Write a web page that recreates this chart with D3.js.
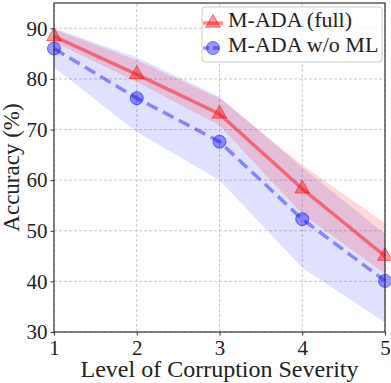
<!DOCTYPE html>
<html>
<head>
<meta charset="utf-8">
<script src="https://cdn.jsdelivr.net/npm/d3@7"></script>
<style>
  body { margin: 0; background: #fff; }
  svg text { font-family: "Liberation Serif", "DejaVu Serif", serif; fill: #222; }
</style>
</head>
<body>
<div id="chart"></div>
<script>
// data
const levels = [1, 2, 3, 4, 5];
const fullMean = [88.4, 80.9, 73.1, 58.3, 45.0];
const fullUpper = [89.8, 83.7, 76.2, 63.0, 51.5];
const fullLower = [87.3, 79.4, 70.8, 53.3, 41.5];
const woMean = [86.0, 76.2, 67.6, 52.3, 40.1];
const woUpper = [90.0, 84.3, 76.5, 62.5, 49.4];
const woLower = [82.3, 69.5, 60.0, 42.7, 31.9];
const yTicks = [30, 40, 50, 60, 70, 80, 90];
const seriesNames = ["M-ADA (full)", "M-ADA w/o ML"];

const WIDTH = 391, HEIGHT = 383;
const MARGINS = {left: 54, right: 6, top: 3, bottom: 51};
const SERIF = "'Liberation Serif', 'DejaVu Serif', serif";

const svg = d3.select("#chart")
  .append("svg")
    .attr("width", WIDTH)
    .attr("height", HEIGHT);

const x = d3.scaleLinear().domain([1, 5]).range([MARGINS.left, WIDTH - MARGINS.right]);
const y = d3.scaleLinear().domain([30, 95]).range([HEIGHT - MARGINS.bottom, MARGINS.top]);

// grid
svg.append("g")
  .selectAll("line")
  .data(levels)
  .enter().append("line")
    .attr("x1", d => x(d)).attr("x2", d => x(d))
    .attr("y1", y(30)).attr("y2", y(95))
    .attr("stroke", "#bbb").attr("stroke-width", 0.8).attr("stroke-dasharray", "3,2");
svg.append("g")
  .selectAll("line")
  .data(yTicks)
  .enter().append("line")
    .attr("x1", x(1)).attr("x2", x(5))
    .attr("y1", d => y(d)).attr("y2", d => y(d))
    .attr("stroke", "#bbb").attr("stroke-width", 0.8).attr("stroke-dasharray", "3,2");

const area = (lo, hi) => d3.area()
  .x((d, i) => x(levels[i]))
  .y0((d, i) => y(lo[i]))
  .y1((d, i) => y(hi[i]))(levels);

const line = vals => d3.line()
  .x((d, i) => x(levels[i]))
  .y((d, i) => y(vals[i]))(levels);

// bands
svg.append("path").attr("d", area(woLower, woUpper))
  .attr("fill", "rgb(0,0,255)").attr("fill-opacity", 0.12);
svg.append("path").attr("d", area(fullLower, fullUpper))
  .attr("fill", "rgb(255,0,0)").attr("fill-opacity", 0.15);

// lines
svg.append("path").attr("d", line(fullMean))
  .attr("fill", "none").attr("stroke", "rgb(255,0,0)").attr("stroke-opacity", 0.45)
  .attr("stroke-width", 3.5);
svg.append("path").attr("d", line(woMean))
  .attr("fill", "none").attr("stroke", "rgb(0,0,255)").attr("stroke-opacity", 0.4)
  .attr("stroke-width", 3.5).attr("stroke-dasharray", "12,6");

// markers
const tri = d3.symbol().type(d3.symbolTriangle).size(95);
svg.append("g").selectAll("path")
  .data(fullMean).enter().append("path")
    .attr("d", tri)
    .attr("transform", (d, i) => `translate(${x(levels[i])},${y(d)})`)
    .attr("fill", "rgb(255,0,0)").attr("fill-opacity", 0.4)
    .attr("stroke", "rgb(255,0,0)").attr("stroke-opacity", 0.5).attr("stroke-width", 1);
svg.append("g").selectAll("circle")
  .data(woMean).enter().append("circle")
    .attr("cx", (d, i) => x(levels[i]))
    .attr("cy", d => y(d))
    .attr("r", 6.5)
    .attr("fill", "rgb(0,0,255)").attr("fill-opacity", 0.4)
    .attr("stroke", "rgb(0,0,255)").attr("stroke-opacity", 0.5).attr("stroke-width", 1);

// axes
const xAxis = svg.append("g")
  .attr("transform", `translate(0,${y(30)})`)
  .call(d3.axisBottom(x).tickValues(levels).tickFormat(d3.format("d")).tickSize(3.5).tickPadding(5));
const yAxis = svg.append("g")
  .attr("transform", `translate(${x(1)},0)`)
  .call(d3.axisLeft(y).tickValues(yTicks).tickSize(3.5).tickPadding(3));
[xAxis, yAxis].forEach(g => {
  g.attr("font-family", null).attr("font-size", null);
  g.selectAll("text")
    .style("font-family", SERIF).style("font-size", "21px").style("fill", "#222");
  g.selectAll("line").attr("stroke", "#333");
  g.select(".domain").remove();
});

// frame
svg.append("rect")
  .attr("x", x(1)).attr("y", y(95))
  .attr("width", x(5) - x(1)).attr("height", y(30) - y(95))
  .attr("fill", "none").attr("stroke", "#333").attr("stroke-width", 1.2);

// axis titles
svg.append("text")
  .attr("x", (x(1) + x(5)) / 2).attr("y", 377)
  .attr("text-anchor", "middle").style("font-size", "24px")
  .text("Level of Corruption Severity");
svg.append("text")
  .attr("transform", `translate(19,${(y(30) + y(95)) / 2}) rotate(-90)`)
  .attr("text-anchor", "middle").style("font-size", "23px")
  .text("Accuracy (%)");

// legend
const leg = svg.append("g");
leg.append("rect")
  .attr("x", 202).attr("y", 7).attr("width", 180).attr("height", 55).attr("rx", 3)
  .attr("fill", "#fff").attr("fill-opacity", 0.8)
  .attr("stroke", "#ccc").attr("stroke-width", 1);
const legY = [23, 48];
leg.append("line").attr("x1", 203).attr("x2", 223).attr("y1", legY[0]).attr("y2", legY[0])
  .attr("stroke", "rgb(255,0,0)").attr("stroke-opacity", 0.45).attr("stroke-width", 3.5);
leg.append("path").attr("d", tri)
  .attr("transform", `translate(213,${legY[0]})`)
  .attr("fill", "rgb(255,0,0)").attr("fill-opacity", 0.4)
  .attr("stroke", "rgb(255,0,0)").attr("stroke-opacity", 0.5);
leg.append("line").attr("x1", 203).attr("x2", 223).attr("y1", legY[1]).attr("y2", legY[1])
  .attr("stroke", "rgb(0,0,255)").attr("stroke-opacity", 0.4).attr("stroke-width", 3.5)
  .attr("stroke-dasharray", "6,4");
leg.append("circle").attr("cx", 213).attr("cy", legY[1]).attr("r", 6.5)
  .attr("fill", "rgb(0,0,255)").attr("fill-opacity", 0.4)
  .attr("stroke", "rgb(0,0,255)").attr("stroke-opacity", 0.5);
leg.selectAll("text.lbl")
  .data(seriesNames).enter().append("text")
    .attr("class", "lbl")
    .attr("x", 228).attr("y", (d, i) => legY[i] + 4)
    .style("font-size", "22px")
    .text(d => d);
</script>
</body>
</html>
